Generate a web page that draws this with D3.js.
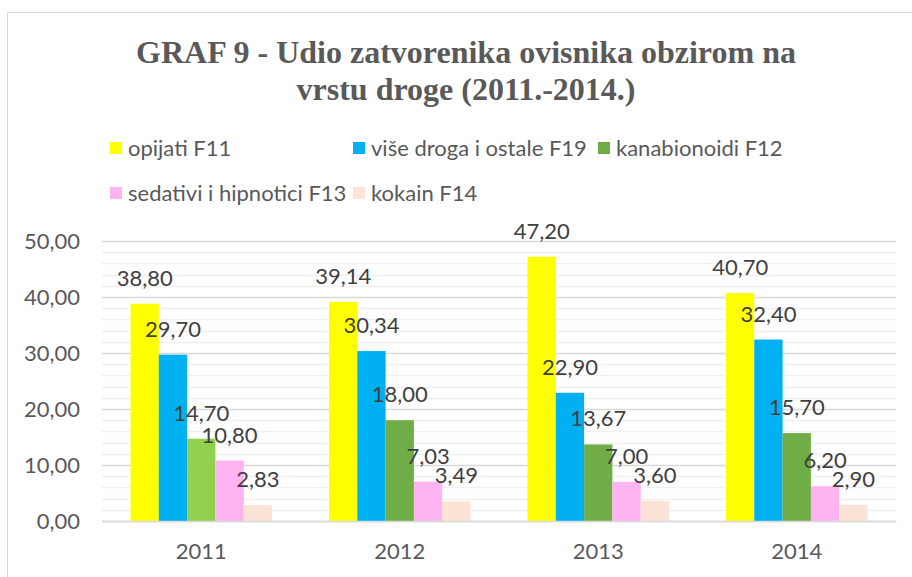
<!DOCTYPE html>
<html>
<head>
<meta charset="utf-8">
<script src="https://cdn.jsdelivr.net/npm/d3@7/dist/d3.min.js"></script>
<style>
  html, body { margin: 0; padding: 0; background: #fff; }
  svg { display: block; }
</style>
</head>
<body>
<svg id="chart" width="912" height="577"></svg>
<script>
// ---- data ----
const categories = ["2011", "2012", "2013", "2014"];
const seriesNames = ["opijati F11", "više droga i ostale F19", "kanabionoidi F12", "sedativi i hipnotici F13", "kokain F14"];
const opijati   = [38.80, 39.14, 47.20, 40.70];
const viseDroga = [29.70, 30.34, 22.90, 32.40];
const kanabis   = [14.70, 18.00, 13.67, 15.70];
const sedativi  = [10.80, 7.03, 7.00, 6.20];
const kokain    = [2.83, 3.49, 3.60, 2.90];
const seriesValues = [opijati, viseDroga, kanabis, sedativi, kokain];
const yTicks = [0, 10, 20, 30, 40, 50];
const titleLines = ["GRAF 9 - Udio zatvorenika ovisnika obzirom na", "vrstu droge (2011.-2014.)"];

// ---- styles ----
const colors = ["#FFFF00", "#00B0F0", "#70AD47", "#FDB4F0", "#FBE4D5"];
const pointColorOverride = { "2-0": "#92D050" }; // series 2, category 0 lighter green
const fmt = v => v.toFixed(2).replace(".", ",");

const svg = d3.select("#chart");

// chart border
svg.append("rect")
  .attr("x", 7.5).attr("y", 12.5)
  .attr("width", 1000).attr("height", 1000)
  .attr("fill", "#fff").attr("stroke", "#d9d9d9").attr("stroke-width", 1);

// title
const title = svg.append("text")
  .attr("text-anchor", "middle")
  .attr("font-family", "'Liberation Serif', 'Times New Roman', serif")
  .attr("font-weight", "bold")
  .attr("font-size", 32)
  .attr("fill", "#595959");
title.selectAll("tspan").data(titleLines).join("tspan")
  .attr("x", 466)
  .attr("y", (d, i) => 63 + i * 37)
  .text(d => d);

// scales
const plotL = 102, plotR = 896, plotT = 241, plotB = 521;
const x0 = d3.scaleBand().domain(categories).range([plotL, plotR])
  .paddingInner(0.287).paddingOuter(0.1435);
const x1 = d3.scaleBand().domain(d3.range(seriesNames.length)).range([0, x0.bandwidth()]);
const y = d3.scaleLinear().domain([0, 50]).range([plotB, plotT]);

const font = "Lato, 'Open Sans', sans-serif";
const fs = 22;

// minor gridlines
const minor = d3.range(0, 50.001, 2).filter(v => v % 10 !== 0);
svg.append("g").selectAll("line").data(minor).join("line")
  .attr("x1", plotL).attr("x2", plotR)
  .attr("y1", d => Math.round(y(d)) + 0.5).attr("y2", d => Math.round(y(d)) + 0.5)
  .attr("stroke", "#f0f0f0").attr("stroke-width", 1.5);

// major gridlines via axis
const yAxis = d3.axisLeft(y).tickValues(yTicks).tickSize(-(plotR - plotL)).tickFormat(fmt).tickPadding(22);
const gy = svg.append("g").attr("transform", `translate(${plotL},0)`).call(yAxis);
gy.select(".domain").remove();
gy.selectAll(".tick line").attr("stroke", "#d9d9d9").attr("stroke-width", 1.5);
gy.selectAll(".tick text")
  .attr("font-family", font).attr("font-size", fs).attr("fill", "#595959");

// bars
const groups = svg.append("g").selectAll("g").data(categories).join("g")
  .attr("transform", d => `translate(${x0(d)},0)`);
groups.selectAll("rect")
  .data((c, ci) => seriesValues.map((vals, si) => ({ si, ci, v: vals[ci] })))
  .join("rect")
  .attr("x", d => x1(d.si))
  .attr("width", x1.bandwidth())
  .attr("y", d => y(d.v))
  .attr("height", d => y(0) - y(d.v))
  .attr("fill", d => pointColorOverride[`${d.si}-${d.ci}`] || colors[d.si]);

// x axis
const xAxis = d3.axisBottom(x0).tickSize(0).tickPadding(22);
const gx = svg.append("g").attr("transform", `translate(0,${plotB})`).call(xAxis);
gx.select(".domain").attr("stroke", "#d9d9d9").attr("stroke-width", 1.5);
gx.selectAll(".tick text")
  .attr("font-family", font).attr("font-size", fs).attr("fill", "#595959");

// data labels
groups.selectAll("text.lbl")
  .data((c, ci) => seriesValues.map((vals, si) => ({ si, ci, v: vals[ci] })))
  .join("text").attr("class", "lbl")
  .attr("x", d => x1(d.si) + x1.bandwidth() / 2)
  .attr("y", d => y(d.v) - 18)
  .attr("text-anchor", "middle")
  .attr("font-family", font).attr("font-size", fs).attr("fill", "#404040")
  .text(d => fmt(d.v));

// legend
const legendPos = [[110, 142], [353, 142], [598, 142], [110, 187], [353, 187]];
const lg = svg.append("g").selectAll("g").data(seriesNames).join("g")
  .attr("transform", (d, i) => `translate(${legendPos[i][0]},${legendPos[i][1]})`);
lg.append("rect").attr("width", 12).attr("height", 12).attr("fill", (d, i) => colors[i]);
lg.append("text").attr("x", 18).attr("y", 14)
  .attr("font-family", font).attr("font-size", fs).attr("fill", "#595959")
  .text(d => d);
</script>
</body>
</html>
